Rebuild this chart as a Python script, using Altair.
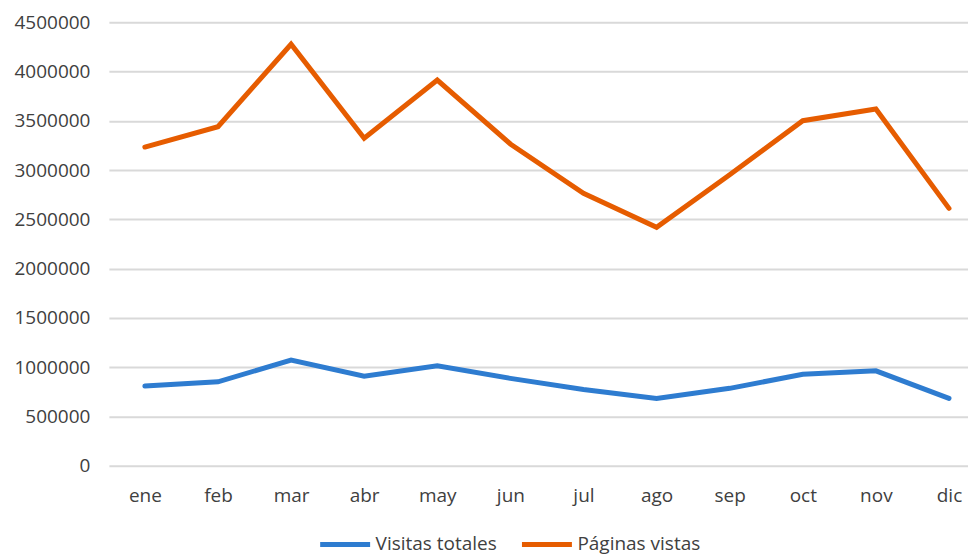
import altair as alt
import pandas as pd

months = ["ene", "feb", "mar", "abr", "may", "jun", "jul", "ago", "sep", "oct", "nov", "dic"]
visitas_totales = [809000, 852000, 1073000, 910000, 1015000, 887000, 775000, 684000, 786000, 928000, 964000, 684000]
paginas_vistas = [3234000, 3440000, 4277000, 3323000, 3914000, 3265000, 2764000, 2419000, 2953000, 3501000, 3620000, 2612000]
series_names = ["Visitas totales", "Páginas vistas"]
series_colors = ["#2E7CD0", "#E65C00"]
y_ticks = list(range(0, 4500001, 500000))

rows = []
for i, m in enumerate(months):
    rows.append({"idx": i, "mes": m, "serie": series_names[0], "valor": visitas_totales[i], "orden": 0})
    rows.append({"idx": i, "mes": m, "serie": series_names[1], "valor": paginas_vistas[i], "orden": 1})
df = pd.DataFrame(rows)

FONT = "Open Sans"
months_js = "[" + ",".join("'" + m + "'" for m in months) + "]"

chart = alt.Chart(df).mark_line(strokeWidth=5, strokeCap="round", strokeJoin="miter").encode(
    x=alt.X("idx:Q",
            scale=alt.Scale(domain=[-0.492, 11.26], nice=False, zero=False),
            axis=alt.Axis(title=None, domain=False, ticks=False, grid=False,
                          values=list(range(len(months))),
                          labelExpr=months_js + "[datum.value]",
                          labelAngle=0, labelPadding=21, labelFontSize=19,
                          labelColor="#404040", labelFont=FONT)),
    y=alt.Y("valor:Q",
            scale=alt.Scale(domain=[0, 4500000], nice=False, zero=True),
            axis=alt.Axis(title=None, domain=False, ticks=False, values=y_ticks,
                          format="d", labelPadding=19, labelFontSize=19,
                          labelColor="#404040", labelFont=FONT,
                          gridColor="#D9D9D9", gridWidth=2)),
    color=alt.Color("serie:N",
                    scale=alt.Scale(domain=series_names, range=series_colors),
                    legend=alt.Legend(title=None, orient="none", direction="horizontal",
                                      legendX=209, legendY=495,
                                      symbolType="stroke", symbolSize=2500,
                                      symbolStrokeWidth=5, labelFontSize=19,
                                      labelFont=FONT, labelColor="#404040",
                                      columnPadding=14, labelOffset=3)),
    order=alt.Order("orden:Q"),
    detail="serie:N",
).properties(
    width=860, height=444,
    padding={"left": 5, "top": 5, "right": 0, "bottom": 0},
    background="white",
).configure_view(stroke=None)

chart.save("out.html", embed_options={"renderer": "svg", "actions": False})
